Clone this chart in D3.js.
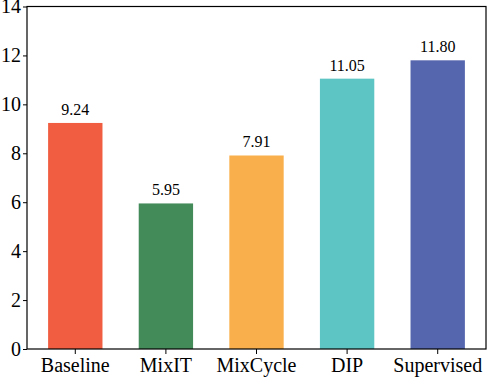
<!DOCTYPE html>
<html>
<head>
<meta charset="utf-8">
<script src="https://cdn.jsdelivr.net/npm/d3@7"></script>
<style>
  body { margin: 0; background: #fff; }
  text { font-family: "Liberation Serif", "Times New Roman", serif; fill: #000; }
</style>
</head>
<body>
<div id="chart"></div>
<script>
// chart values
var methods = ["Baseline", "MixIT", "MixCycle", "DIP", "Supervised"];
var scores = [9.24, 5.95, 7.91, 11.05, 11.80];
var colors = ["#f05d40", "#448b5a", "#f9b04c", "#5dc5c4", "#5566ae"];
var yTicks = [0, 2, 4, 6, 8, 10, 12, 14];

var svgWidth = 488,
    svgHeight = 378,
    margin = {top: 6.5, right: 2, bottom: 29, left: 27};

var width = svgWidth - margin.left - margin.right,
    height = svgHeight - margin.top - margin.bottom;

var svg = d3.select("#chart")
  .append("svg")
    .attr("width", svgWidth)
    .attr("height", svgHeight)
  .append("g")
    .attr("transform", "translate(" + margin.left + "," + margin.top + ")");

var xScale = d3.scaleBand()
    .domain(methods)
    .range([0, width])
    .paddingInner(0.4)
    .paddingOuter(0.233);

var yScale = d3.scaleLinear()
    .domain([0, 14])
    .range([height, 0]);

// bars
svg.selectAll(".bar")
    .data(methods)
  .enter().append("rect")
    .attr("class", "bar")
    .attr("x", function(d) { return xScale(d); })
    .attr("width", xScale.bandwidth())
    .attr("y", function(d, i) { return yScale(scores[i]); })
    .attr("height", function(d, i) { return height - yScale(scores[i]); })
    .attr("fill", function(d, i) { return colors[i]; });

// value labels
svg.selectAll(".val")
    .data(methods)
  .enter().append("text")
    .attr("class", "val")
    .attr("x", function(d) { return xScale(d) + xScale.bandwidth() / 2; })
    .attr("y", function(d, i) { return yScale(scores[i]) - 8; })
    .attr("text-anchor", "middle")
    .style("font-size", "16px")
    .text(function(d, i) { return scores[i].toFixed(2); });

// axes
var xAxis = svg.append("g")
    .attr("transform", "translate(0," + height + ")")
    .call(d3.axisBottom(xScale).tickSize(5).tickPadding(4));
xAxis.selectAll("text").style("font-size", "20px").attr("dy", "0.71em");

var yAxis = svg.append("g")
    .call(d3.axisLeft(yScale).tickValues(yTicks).tickSize(4).tickPadding(2));
yAxis.selectAll("text").style("font-size", "20px");

svg.selectAll(".domain").remove();
svg.selectAll(".tick line").attr("stroke", "#000").attr("stroke-width", 1);

// frame
svg.append("rect")
    .attr("x", 0).attr("y", 0)
    .attr("width", width).attr("height", height)
    .attr("fill", "none")
    .attr("stroke", "#000")
    .attr("stroke-width", 1.2);
</script>
</body>
</html>
